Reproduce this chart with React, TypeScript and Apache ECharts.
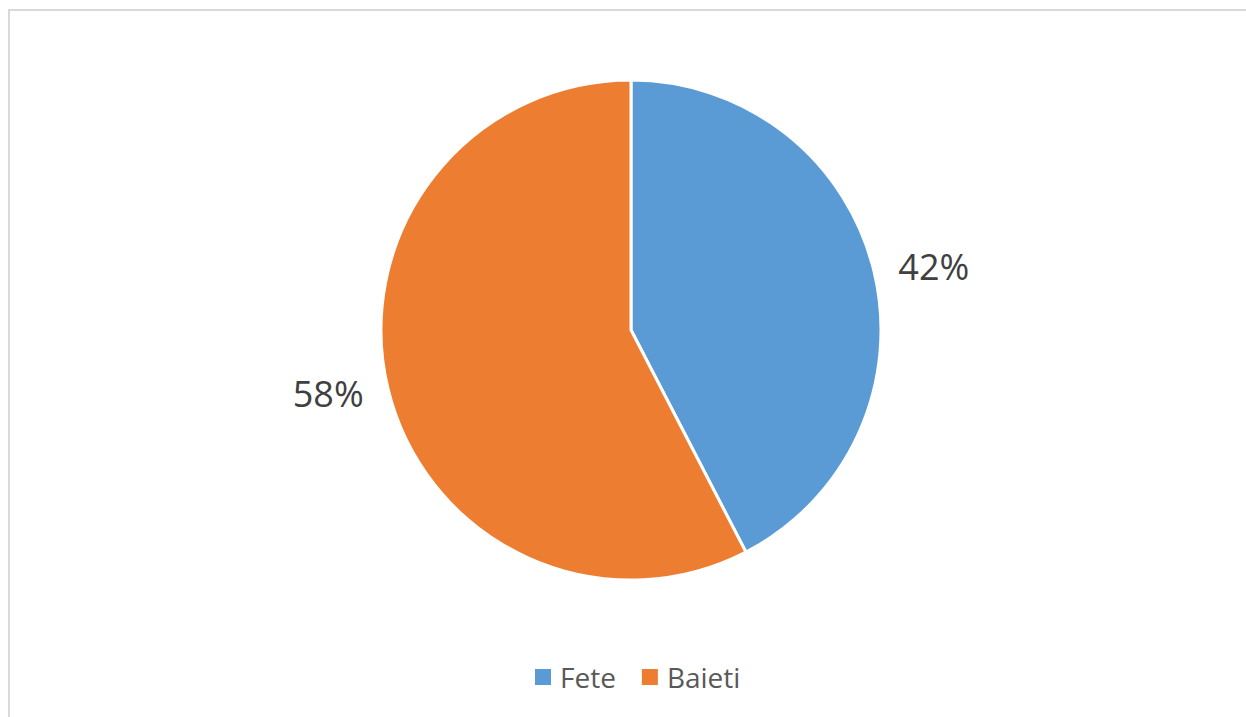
import React, { useEffect, useRef } from "react";
import * as echarts from "echarts";

const categories = ["Fete", "Baieti"];
const values = [42.4, 57.6];
const colors = ["#5B9BD5", "#ED7D31"];

export default function App() {
  const ref = useRef<HTMLDivElement>(null);
  useEffect(() => {
    if (!ref.current) return;
    const chart = echarts.init(ref.current, null, { renderer: "svg" });
    chart.setOption({
      animation: false,
      backgroundColor: "#ffffff",
      legend: {
        data: categories,
        bottom: 21,
        left: 518,
        icon: "rect",
        itemWidth: 18,
        itemHeight: 18,
        itemGap: 24,
        textStyle: {
          fontFamily: "Open Sans",
          fontSize: 28,
          color: "#595959",
          padding: [0, 0, 0, 3],
        },
      },
      series: [
        {
          type: "pie",
          center: [621, 319],
          radius: 250,
          startAngle: 90,
          clockwise: true,
          avoidLabelOverlap: false,
          data: categories.map((c, i) => ({
            name: c,
            value: values[i],
            itemStyle: { color: colors[i] },
          })),
          itemStyle: { borderColor: "#ffffff", borderWidth: 3 },
          label: {
            show: true,
            position: "outside",
            formatter: (p: any) => `${Math.round(p.percent)}%`,
            fontFamily: "Open Sans",
            fontSize: 36,
            color: "#404040",
          },
          labelLine: { show: false, length: 20, length2: 0 },
        },
      ],
    });
    return () => chart.dispose();
  }, []);
  return (
    <div
      style={{
        position: "fixed",
        top: 9,
        left: 8,
        width: 1238,
        height: 706,
        borderTop: "2px solid #d9d9d9",
        borderLeft: "2px solid #d9d9d9",
        background: "#ffffff",
      }}
    >
      <div ref={ref} style={{ width: 1238, height: 706 }} />
    </div>
  );
}
